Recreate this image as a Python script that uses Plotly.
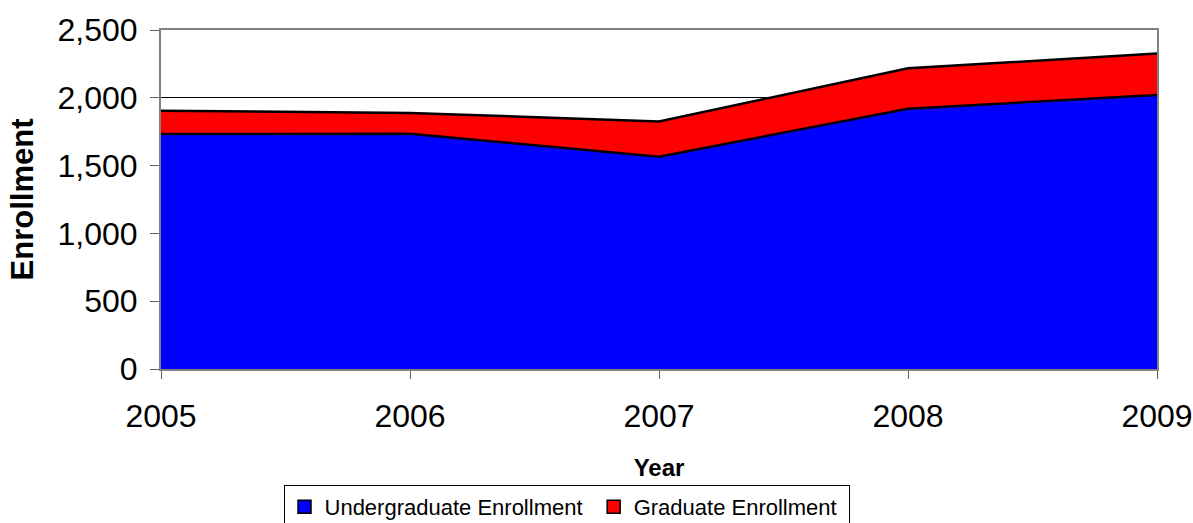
import plotly.graph_objects as go

years = [2005, 2006, 2007, 2008, 2009]
undergrad = [1733, 1735, 1566, 1920, 2020]
graduate = [172, 153, 260, 298, 306]
y_ticks = [0, 500, 1000, 1500, 2000, 2500]
y_tick_labels = ["0", "500", "1,000", "1,500", "2,000", "2,500"]
series_names = ["Undergraduate Enrollment", "Graduate Enrollment"]
series_colors = ["#0000FF", "#FF0000"]

fig = go.Figure()
for vals, name, col in zip([undergrad, graduate], series_names, series_colors):
    fig.add_trace(go.Scatter(
        x=years, y=vals, name=name, stackgroup="one", showlegend=False,
        mode="lines", line=dict(color="black", width=2.5), fillcolor=col))
# legend entries with square swatches
for name, col in zip(series_names, series_colors):
    fig.add_trace(go.Scatter(
        x=[None], y=[None], name=name + " ", mode="markers",
        marker=dict(symbol="square", size=13, color=col, line=dict(color="black", width=1.5))))

font_family = "Liberation Sans, Arial, sans-serif"
fig.update_layout(
    width=1193, height=523,
    margin=dict(l=161, r=36, t=30, b=154, autoexpand=False),
    paper_bgcolor="white", plot_bgcolor="white",
    font=dict(family=font_family, color="black"),
    showlegend=True,
    legend=dict(orientation="h", x=0.123, xanchor="left", y=-0.342, yanchor="top",
                bordercolor="black", borderwidth=1, font=dict(size=22),
                itemwidth=30, traceorder="normal", tracegroupgap=0),
    xaxis=dict(range=[2005, 2009], tickvals=years, ticktext=[str(y) for y in years],
               tickfont=dict(size=32), ticks="outside", ticklen=8, tickcolor="#606060",
               ticklabelstandoff=10, automargin=False,
               showline=True, linecolor="#808080", linewidth=2, mirror=True,
               showgrid=False, zeroline=False,
               title=dict(text="<b>Year</b>", font=dict(size=24), standoff=26)),
    yaxis=dict(range=[0, 2500], tickvals=y_ticks, ticktext=y_tick_labels,
               tickfont=dict(size=32), ticks="outside", ticklen=9, tickcolor="#606060",
               ticklabelstandoff=6, automargin=False,
               showline=True, linecolor="#808080", linewidth=2, mirror=True,
               showgrid=True, gridcolor="black", gridwidth=1, zeroline=False,
               title=dict(text="<b>Enrollment</b>", font=dict(size=31), standoff=15)),
)

fig.write_html(
    "out.html",
    config={"displayModeBar": False},
    post_script="document.body.style.margin='0';document.body.style.overflow='hidden';",
)
